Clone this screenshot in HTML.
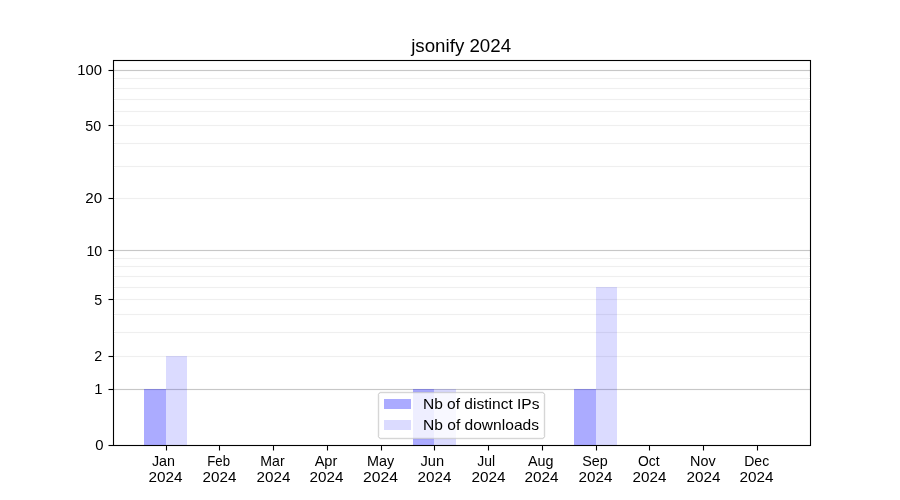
<!DOCTYPE html>
<html><head><meta charset="utf-8"><style>
html,body{margin:0;padding:0;background:#fff;overflow:hidden;}
svg{display:block;will-change:transform;}

.t text{font-family:"Liberation Sans",sans-serif;fill:#000;}
</style></head><body>
<svg width="900" height="500" viewBox="0 0 900 500" shape-rendering="crispEdges">
<rect x="0" y="0" width="900" height="500" fill="#fff"/>
<g fill="#000">
<rect x="113" y="59" width="698" height="3" fill-opacity="0.055"/>
<rect x="113" y="444" width="698" height="3" fill-opacity="0.055"/>
<rect x="112" y="60" width="3" height="386" fill-opacity="0.055"/>
<rect x="809" y="60" width="3" height="386" fill-opacity="0.055"/>
</g>
<g fill="#000">
<rect x="114" y="78" width="696" height="1" fill-opacity="0.0627"/>
<rect x="114" y="77" width="696" height="1" fill="#fefefe"/>
<rect x="114" y="79" width="696" height="1" fill="#fefefe"/>
<rect x="114" y="88" width="696" height="1" fill-opacity="0.0627"/>
<rect x="114" y="87" width="696" height="1" fill="#fefefe"/>
<rect x="114" y="89" width="696" height="1" fill="#fefefe"/>
<rect x="114" y="99" width="696" height="1" fill-opacity="0.0627"/>
<rect x="114" y="98" width="696" height="1" fill="#fefefe"/>
<rect x="114" y="100" width="696" height="1" fill="#fefefe"/>
<rect x="114" y="111" width="696" height="1" fill-opacity="0.0627"/>
<rect x="114" y="110" width="696" height="1" fill="#fefefe"/>
<rect x="114" y="112" width="696" height="1" fill="#fefefe"/>
<rect x="114" y="125" width="696" height="1" fill-opacity="0.0627"/>
<rect x="114" y="124" width="696" height="1" fill="#fefefe"/>
<rect x="114" y="126" width="696" height="1" fill="#fefefe"/>
<rect x="114" y="143" width="696" height="1" fill-opacity="0.0627"/>
<rect x="114" y="142" width="696" height="1" fill="#fefefe"/>
<rect x="114" y="144" width="696" height="1" fill="#fefefe"/>
<rect x="114" y="166" width="696" height="1" fill-opacity="0.0627"/>
<rect x="114" y="165" width="696" height="1" fill="#fefefe"/>
<rect x="114" y="167" width="696" height="1" fill="#fefefe"/>
<rect x="114" y="198" width="696" height="1" fill-opacity="0.0627"/>
<rect x="114" y="197" width="696" height="1" fill="#fefefe"/>
<rect x="114" y="199" width="696" height="1" fill="#fefefe"/>
<rect x="114" y="258" width="696" height="1" fill-opacity="0.0627"/>
<rect x="114" y="257" width="696" height="1" fill="#fefefe"/>
<rect x="114" y="259" width="696" height="1" fill="#fefefe"/>
<rect x="114" y="266" width="696" height="1" fill-opacity="0.0627"/>
<rect x="114" y="265" width="696" height="1" fill="#fefefe"/>
<rect x="114" y="267" width="696" height="1" fill="#fefefe"/>
<rect x="114" y="276" width="696" height="1" fill-opacity="0.0627"/>
<rect x="114" y="275" width="696" height="1" fill="#fefefe"/>
<rect x="114" y="277" width="696" height="1" fill="#fefefe"/>
<rect x="114" y="287" width="696" height="1" fill-opacity="0.0627"/>
<rect x="114" y="286" width="696" height="1" fill="#fefefe"/>
<rect x="114" y="288" width="696" height="1" fill="#fefefe"/>
<rect x="114" y="299" width="696" height="1" fill-opacity="0.0627"/>
<rect x="114" y="298" width="696" height="1" fill="#fefefe"/>
<rect x="114" y="300" width="696" height="1" fill="#fefefe"/>
<rect x="114" y="314" width="696" height="1" fill-opacity="0.0627"/>
<rect x="114" y="313" width="696" height="1" fill="#fefefe"/>
<rect x="114" y="315" width="696" height="1" fill="#fefefe"/>
<rect x="114" y="332" width="696" height="1" fill-opacity="0.0627"/>
<rect x="114" y="331" width="696" height="1" fill="#fefefe"/>
<rect x="114" y="333" width="696" height="1" fill="#fefefe"/>
<rect x="114" y="356" width="696" height="1" fill-opacity="0.0627"/>
<rect x="114" y="355" width="696" height="1" fill="#fefefe"/>
<rect x="114" y="357" width="696" height="1" fill="#fefefe"/>
<rect x="114" y="389" width="696" height="1" fill-opacity="0.22"/>
<rect x="114" y="388" width="696" height="1" fill-opacity="0.0157"/>
<rect x="114" y="390" width="696" height="1" fill-opacity="0.0157"/>
<rect x="114" y="250" width="696" height="1" fill-opacity="0.22"/>
<rect x="114" y="249" width="696" height="1" fill-opacity="0.0157"/>
<rect x="114" y="251" width="696" height="1" fill-opacity="0.0157"/>
<rect x="114" y="70" width="696" height="1" fill-opacity="0.22"/>
<rect x="114" y="69" width="696" height="1" fill-opacity="0.0157"/>
<rect x="114" y="71" width="696" height="1" fill-opacity="0.0157"/>
</g>
<rect x="144" y="389" width="22" height="56" fill="#00f" fill-opacity="0.33"/>
<rect x="166" y="356" width="21" height="89" fill="#00f" fill-opacity="0.14"/>
<rect x="413" y="389" width="21" height="56" fill="#00f" fill-opacity="0.33"/>
<rect x="434" y="389" width="22" height="56" fill="#00f" fill-opacity="0.14"/>
<rect x="574" y="389" width="22" height="56" fill="#00f" fill-opacity="0.33"/>
<rect x="596" y="287" width="21" height="158" fill="#00f" fill-opacity="0.14"/>
<rect x="378" y="392" width="167" height="47" fill="#fff" fill-opacity="0.8"/>
<g fill="#000">
<rect x="380" y="391" width="163" height="1" fill-opacity="0.031"/>
<rect x="380" y="439" width="163" height="1" fill-opacity="0.031"/>
<rect x="377" y="394" width="1" height="43" fill-opacity="0.031"/>
<rect x="545" y="394" width="1" height="43" fill-opacity="0.031"/>
<rect x="380" y="393" width="163" height="1" fill-opacity="0.031"/>
<rect x="380" y="437" width="163" height="1" fill-opacity="0.031"/>
<rect x="379" y="395" width="1" height="41" fill-opacity="0.031"/>
<rect x="543" y="395" width="1" height="41" fill-opacity="0.031"/>
<rect x="380" y="392" width="163" height="1" fill-opacity="0.16"/>
<rect x="380" y="438" width="163" height="1" fill-opacity="0.16"/>
<rect x="378" y="394" width="1" height="43" fill-opacity="0.16"/>
<rect x="544" y="394" width="1" height="43" fill-opacity="0.16"/>
<rect x="379" y="393" width="1" height="1" fill-opacity="0.16"/>
<rect x="543" y="393" width="1" height="1" fill-opacity="0.16"/>
<rect x="379" y="437" width="1" height="1" fill-opacity="0.16"/>
<rect x="543" y="437" width="1" height="1" fill-opacity="0.16"/>
<rect x="379" y="392" width="1" height="1" fill-opacity="0.1"/>
<rect x="378" y="393" width="1" height="1" fill-opacity="0.1"/>
<rect x="543" y="392" width="1" height="1" fill-opacity="0.1"/>
<rect x="544" y="393" width="1" height="1" fill-opacity="0.1"/>
<rect x="379" y="438" width="1" height="1" fill-opacity="0.1"/>
<rect x="378" y="437" width="1" height="1" fill-opacity="0.1"/>
<rect x="543" y="438" width="1" height="1" fill-opacity="0.1"/>
<rect x="544" y="437" width="1" height="1" fill-opacity="0.1"/>
</g>
<rect x="384" y="399" width="27" height="10" fill="#00f" fill-opacity="0.33"/>
<rect x="384" y="420" width="27" height="10" fill="#00f" fill-opacity="0.14"/>
<g fill="#000">
<rect x="113" y="60" width="698" height="1"/>
<rect x="113" y="445" width="698" height="1"/>
<rect x="113" y="60" width="1" height="386"/>
<rect x="810" y="60" width="1" height="386"/>
<rect x="109" y="70" width="4" height="1"/>
<rect x="108" y="70" width="1" height="1" fill-opacity="0.5"/>
<rect x="109" y="69" width="4" height="1" fill-opacity="0.055"/>
<rect x="109" y="71" width="4" height="1" fill-opacity="0.055"/>
<rect x="108" y="69" width="1" height="1" fill-opacity="0.027"/>
<rect x="108" y="71" width="1" height="1" fill-opacity="0.027"/>
<rect x="109" y="125" width="4" height="1"/>
<rect x="108" y="125" width="1" height="1" fill-opacity="0.5"/>
<rect x="109" y="124" width="4" height="1" fill-opacity="0.055"/>
<rect x="109" y="126" width="4" height="1" fill-opacity="0.055"/>
<rect x="108" y="124" width="1" height="1" fill-opacity="0.027"/>
<rect x="108" y="126" width="1" height="1" fill-opacity="0.027"/>
<rect x="109" y="198" width="4" height="1"/>
<rect x="108" y="198" width="1" height="1" fill-opacity="0.5"/>
<rect x="109" y="197" width="4" height="1" fill-opacity="0.055"/>
<rect x="109" y="199" width="4" height="1" fill-opacity="0.055"/>
<rect x="108" y="197" width="1" height="1" fill-opacity="0.027"/>
<rect x="108" y="199" width="1" height="1" fill-opacity="0.027"/>
<rect x="109" y="250" width="4" height="1"/>
<rect x="108" y="250" width="1" height="1" fill-opacity="0.5"/>
<rect x="109" y="249" width="4" height="1" fill-opacity="0.055"/>
<rect x="109" y="251" width="4" height="1" fill-opacity="0.055"/>
<rect x="108" y="249" width="1" height="1" fill-opacity="0.027"/>
<rect x="108" y="251" width="1" height="1" fill-opacity="0.027"/>
<rect x="109" y="299" width="4" height="1"/>
<rect x="108" y="299" width="1" height="1" fill-opacity="0.5"/>
<rect x="109" y="298" width="4" height="1" fill-opacity="0.055"/>
<rect x="109" y="300" width="4" height="1" fill-opacity="0.055"/>
<rect x="108" y="298" width="1" height="1" fill-opacity="0.027"/>
<rect x="108" y="300" width="1" height="1" fill-opacity="0.027"/>
<rect x="109" y="356" width="4" height="1"/>
<rect x="108" y="356" width="1" height="1" fill-opacity="0.5"/>
<rect x="109" y="355" width="4" height="1" fill-opacity="0.055"/>
<rect x="109" y="357" width="4" height="1" fill-opacity="0.055"/>
<rect x="108" y="355" width="1" height="1" fill-opacity="0.027"/>
<rect x="108" y="357" width="1" height="1" fill-opacity="0.027"/>
<rect x="109" y="389" width="4" height="1"/>
<rect x="108" y="389" width="1" height="1" fill-opacity="0.5"/>
<rect x="109" y="388" width="4" height="1" fill-opacity="0.055"/>
<rect x="109" y="390" width="4" height="1" fill-opacity="0.055"/>
<rect x="108" y="388" width="1" height="1" fill-opacity="0.027"/>
<rect x="108" y="390" width="1" height="1" fill-opacity="0.027"/>
<rect x="109" y="445" width="4" height="1"/>
<rect x="108" y="445" width="1" height="1" fill-opacity="0.5"/>
<rect x="109" y="444" width="4" height="1" fill-opacity="0.055"/>
<rect x="109" y="446" width="4" height="1" fill-opacity="0.055"/>
<rect x="108" y="444" width="1" height="1" fill-opacity="0.027"/>
<rect x="108" y="446" width="1" height="1" fill-opacity="0.027"/>
<rect x="166" y="446" width="1" height="4"/>
<rect x="166" y="450" width="1" height="1" fill-opacity="0.5"/>
<rect x="165" y="447" width="1" height="3" fill-opacity="0.055"/>
<rect x="167" y="447" width="1" height="3" fill-opacity="0.055"/>
<rect x="165" y="450" width="1" height="1" fill-opacity="0.027"/>
<rect x="167" y="450" width="1" height="1" fill-opacity="0.027"/>
<rect x="219" y="446" width="1" height="4"/>
<rect x="219" y="450" width="1" height="1" fill-opacity="0.5"/>
<rect x="218" y="447" width="1" height="3" fill-opacity="0.055"/>
<rect x="220" y="447" width="1" height="3" fill-opacity="0.055"/>
<rect x="218" y="450" width="1" height="1" fill-opacity="0.027"/>
<rect x="220" y="450" width="1" height="1" fill-opacity="0.027"/>
<rect x="273" y="446" width="1" height="4"/>
<rect x="273" y="450" width="1" height="1" fill-opacity="0.5"/>
<rect x="272" y="447" width="1" height="3" fill-opacity="0.055"/>
<rect x="274" y="447" width="1" height="3" fill-opacity="0.055"/>
<rect x="272" y="450" width="1" height="1" fill-opacity="0.027"/>
<rect x="274" y="450" width="1" height="1" fill-opacity="0.027"/>
<rect x="327" y="446" width="1" height="4"/>
<rect x="327" y="450" width="1" height="1" fill-opacity="0.5"/>
<rect x="326" y="447" width="1" height="3" fill-opacity="0.055"/>
<rect x="328" y="447" width="1" height="3" fill-opacity="0.055"/>
<rect x="326" y="450" width="1" height="1" fill-opacity="0.027"/>
<rect x="328" y="450" width="1" height="1" fill-opacity="0.027"/>
<rect x="381" y="446" width="1" height="4"/>
<rect x="381" y="450" width="1" height="1" fill-opacity="0.5"/>
<rect x="380" y="447" width="1" height="3" fill-opacity="0.055"/>
<rect x="382" y="447" width="1" height="3" fill-opacity="0.055"/>
<rect x="380" y="450" width="1" height="1" fill-opacity="0.027"/>
<rect x="382" y="450" width="1" height="1" fill-opacity="0.027"/>
<rect x="434" y="446" width="1" height="4"/>
<rect x="434" y="450" width="1" height="1" fill-opacity="0.5"/>
<rect x="433" y="447" width="1" height="3" fill-opacity="0.055"/>
<rect x="435" y="447" width="1" height="3" fill-opacity="0.055"/>
<rect x="433" y="450" width="1" height="1" fill-opacity="0.027"/>
<rect x="435" y="450" width="1" height="1" fill-opacity="0.027"/>
<rect x="488" y="446" width="1" height="4"/>
<rect x="488" y="450" width="1" height="1" fill-opacity="0.5"/>
<rect x="487" y="447" width="1" height="3" fill-opacity="0.055"/>
<rect x="489" y="447" width="1" height="3" fill-opacity="0.055"/>
<rect x="487" y="450" width="1" height="1" fill-opacity="0.027"/>
<rect x="489" y="450" width="1" height="1" fill-opacity="0.027"/>
<rect x="542" y="446" width="1" height="4"/>
<rect x="542" y="450" width="1" height="1" fill-opacity="0.5"/>
<rect x="541" y="447" width="1" height="3" fill-opacity="0.055"/>
<rect x="543" y="447" width="1" height="3" fill-opacity="0.055"/>
<rect x="541" y="450" width="1" height="1" fill-opacity="0.027"/>
<rect x="543" y="450" width="1" height="1" fill-opacity="0.027"/>
<rect x="596" y="446" width="1" height="4"/>
<rect x="596" y="450" width="1" height="1" fill-opacity="0.5"/>
<rect x="595" y="447" width="1" height="3" fill-opacity="0.055"/>
<rect x="597" y="447" width="1" height="3" fill-opacity="0.055"/>
<rect x="595" y="450" width="1" height="1" fill-opacity="0.027"/>
<rect x="597" y="450" width="1" height="1" fill-opacity="0.027"/>
<rect x="649" y="446" width="1" height="4"/>
<rect x="649" y="450" width="1" height="1" fill-opacity="0.5"/>
<rect x="648" y="447" width="1" height="3" fill-opacity="0.055"/>
<rect x="650" y="447" width="1" height="3" fill-opacity="0.055"/>
<rect x="648" y="450" width="1" height="1" fill-opacity="0.027"/>
<rect x="650" y="450" width="1" height="1" fill-opacity="0.027"/>
<rect x="703" y="446" width="1" height="4"/>
<rect x="703" y="450" width="1" height="1" fill-opacity="0.5"/>
<rect x="702" y="447" width="1" height="3" fill-opacity="0.055"/>
<rect x="704" y="447" width="1" height="3" fill-opacity="0.055"/>
<rect x="702" y="450" width="1" height="1" fill-opacity="0.027"/>
<rect x="704" y="450" width="1" height="1" fill-opacity="0.027"/>
<rect x="757" y="446" width="1" height="4"/>
<rect x="757" y="450" width="1" height="1" fill-opacity="0.5"/>
<rect x="756" y="447" width="1" height="3" fill-opacity="0.055"/>
<rect x="758" y="447" width="1" height="3" fill-opacity="0.055"/>
<rect x="756" y="450" width="1" height="1" fill-opacity="0.027"/>
<rect x="758" y="450" width="1" height="1" fill-opacity="0.027"/>
</g>
<g class="t">
<text x="411.21" y="52.00" font-size="17.90" textLength="99.86" lengthAdjust="spacingAndGlyphs">jsonify 2024</text>
<text x="77.33" y="75.00" font-size="13.90" textLength="24.72" lengthAdjust="spacingAndGlyphs">100</text>
<text x="85.38" y="131.00" font-size="13.90" textLength="15.81" lengthAdjust="spacingAndGlyphs">50</text>
<text x="85.26" y="203.00" font-size="13.90" textLength="16.84" lengthAdjust="spacingAndGlyphs">20</text>
<text x="86.43" y="256.00" font-size="13.90" textLength="15.81" lengthAdjust="spacingAndGlyphs">10</text>
<text x="94.15" y="305.00" font-size="13.90" textLength="7.93" lengthAdjust="spacingAndGlyphs">5</text>
<text x="94.34" y="361.00" font-size="13.90" textLength="7.93" lengthAdjust="spacingAndGlyphs">2</text>
<text x="94.24" y="394.00" font-size="13.90" textLength="8.27" lengthAdjust="spacingAndGlyphs">1</text>
<text x="95.22" y="450.00" font-size="13.90" textLength="8.27" lengthAdjust="spacingAndGlyphs">0</text>
<text x="151.98" y="466.00" font-size="14.20" textLength="23.07" lengthAdjust="spacingAndGlyphs">Jan</text>
<text x="148.47" y="482.00" font-size="14.20" textLength="34.05" lengthAdjust="spacingAndGlyphs">2024</text>
<text x="207.32" y="466.00" font-size="14.20" textLength="22.73" lengthAdjust="spacingAndGlyphs">Feb</text>
<text x="202.56" y="482.00" font-size="14.20" textLength="33.88" lengthAdjust="spacingAndGlyphs">2024</text>
<text x="260.30" y="466.00" font-size="14.20" textLength="24.32" lengthAdjust="spacingAndGlyphs">Mar</text>
<text x="256.58" y="482.00" font-size="14.20" textLength="33.88" lengthAdjust="spacingAndGlyphs">2024</text>
<text x="314.65" y="466.00" font-size="14.20" textLength="22.69" lengthAdjust="spacingAndGlyphs">Apr</text>
<text x="309.57" y="482.00" font-size="14.20" textLength="33.88" lengthAdjust="spacingAndGlyphs">2024</text>
<text x="367.02" y="466.00" font-size="14.20" textLength="27.21" lengthAdjust="spacingAndGlyphs">May</text>
<text x="363.04" y="482.00" font-size="14.20" textLength="34.90" lengthAdjust="spacingAndGlyphs">2024</text>
<text x="420.55" y="466.00" font-size="14.20" textLength="23.58" lengthAdjust="spacingAndGlyphs">Jun</text>
<text x="417.56" y="482.00" font-size="14.20" textLength="33.88" lengthAdjust="spacingAndGlyphs">2024</text>
<text x="477.22" y="466.00" font-size="14.20" textLength="17.88" lengthAdjust="spacingAndGlyphs">Jul</text>
<text x="471.47" y="482.00" font-size="14.20" textLength="34.05" lengthAdjust="spacingAndGlyphs">2024</text>
<text x="528.06" y="466.00" font-size="14.20" textLength="25.53" lengthAdjust="spacingAndGlyphs">Aug</text>
<text x="524.47" y="482.00" font-size="14.20" textLength="34.05" lengthAdjust="spacingAndGlyphs">2024</text>
<text x="582.20" y="466.00" font-size="14.20" textLength="25.51" lengthAdjust="spacingAndGlyphs">Sep</text>
<text x="578.57" y="482.00" font-size="14.20" textLength="33.88" lengthAdjust="spacingAndGlyphs">2024</text>
<text x="637.90" y="466.00" font-size="14.20" textLength="21.60" lengthAdjust="spacingAndGlyphs">Oct</text>
<text x="632.57" y="482.00" font-size="14.20" textLength="33.88" lengthAdjust="spacingAndGlyphs">2024</text>
<text x="690.00" y="466.00" font-size="14.20" textLength="25.60" lengthAdjust="spacingAndGlyphs">Nov</text>
<text x="686.46" y="482.00" font-size="14.20" textLength="34.05" lengthAdjust="spacingAndGlyphs">2024</text>
<text x="744.21" y="466.00" font-size="14.20" textLength="24.94" lengthAdjust="spacingAndGlyphs">Dec</text>
<text x="739.47" y="482.00" font-size="14.20" textLength="34.05" lengthAdjust="spacingAndGlyphs">2024</text>
<text x="422.91" y="409.00" font-size="14.50" textLength="116.60" lengthAdjust="spacingAndGlyphs">Nb of distinct IPs</text>
<text x="422.99" y="430.00" font-size="14.50" textLength="116.02" lengthAdjust="spacingAndGlyphs">Nb of downloads</text>
</g>
</svg></body></html>
